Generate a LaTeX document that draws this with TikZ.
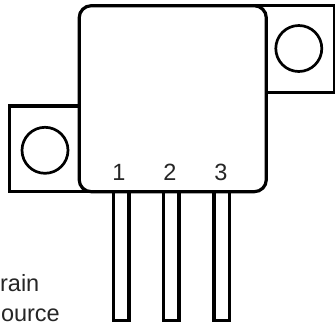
\documentclass[tikz,border=0pt]{standalone}
\usepackage{fontspec}
\setmainfont{Liberation Sans}
\tikzset{
  part/.style={draw=black,fill=white,line width=3.2bp,inner sep=0pt,outer sep=0pt,rectangle},
  hole/.style={draw=black,fill=white,line width=2.7bp,circle,inner sep=0pt,outer sep=0pt,minimum size=46bp},
  num/.style={inner sep=0pt,font=\fontsize{23.5bp}{26bp}\selectfont,text=black!85},
  legend/.style={inner sep=0pt,anchor=base east,font=\fontsize{23.5bp}{26bp}\selectfont,text=black!85}
}
\begin{document}
\begin{tikzpicture}[x=1bp,y=-1bp]
\useasboundingbox (0,0) rectangle (335,325);
\fill[white] (0,0) rectangle (335,325);
\node[part,minimum width=15.3bp,minimum height=128.6bp,anchor=north] (pinA) at (121.4,191.7) {};
\node[part,minimum width=15.3bp,minimum height=128.6bp,anchor=north] (pinB) at (171.4,191.7) {};
\node[part,minimum width=15.3bp,minimum height=128.6bp,anchor=north] (pinC) at (221.6,191.7) {};
\node[part,minimum width=82bp,minimum height=85.7bp,anchor=south west] (tabL) at (9.2,191.7) {};
\node[part,minimum width=81bp,minimum height=86.6bp,anchor=north east] (tabR) at (334.7,5.7) {};
\node[part,rounded corners=12bp,minimum width=187.1bp,minimum height=186bp,anchor=north west] (body) at (79.2,5.7) {};
\node[hole] (holeL) at (45,150.3) {};
\node[hole] (holeR) at (298.8,48.5) {};
\node[num] (n1) at (119,172) {1};
\node[num] (n2) at (170,172) {2};
\node[num] (n3) at (221,172) {3};
\node[legend] (drain) at (39.5,291.7) {rain};
\node[legend] (source) at (60,321.7) {ource};
\end{tikzpicture}
\end{document}
